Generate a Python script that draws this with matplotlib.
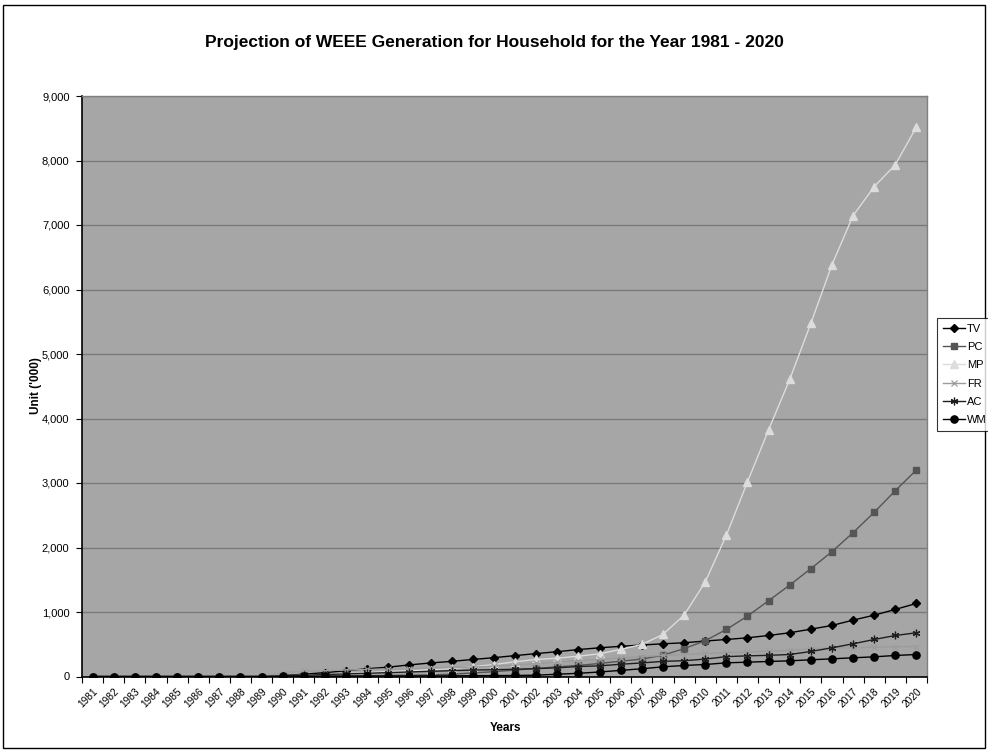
import matplotlib
matplotlib.use("Agg")
import matplotlib.pyplot as plt
from matplotlib.patches import Rectangle

plt.rcParams['font.family'] = ['Liberation Sans', 'DejaVu Sans']

years = [str(y) for y in range(1981, 2021)]

tv = [0, 0, 0, 0, 0, 0, 0, 0, 0,
      15, 35, 60, 90, 120, 145, 180, 210, 235, 264, 292,
      324, 355, 385, 418, 445, 468, 488, 507, 523, 550,
      574, 600, 636, 678, 734, 791, 874, 951, 1040, 1133]
pc = [0, 0, 0, 0, 0, 0, 0, 0, 0,
      2, 4, 6, 9, 12, 16, 20, 25, 35, 55, 75,
      100, 125, 150, 172, 202, 238, 270, 330, 432, 554,
      729, 936, 1175, 1417, 1672, 1935, 2230, 2545, 2882, 3202]
mp = [0, 0, 0, 0, 0, 0, 0, 0, 0,
      10, 20, 30, 45, 60, 75, 90, 105, 125, 150, 186,
      228, 264, 284, 315, 352, 420, 497, 652, 951, 1464,
      2188, 3016, 3823, 4605, 5474, 6383, 7144, 7594, 7935, 8520]
fr = [0, 0, 0, 0, 0, 0, 0, 0, 0,
      60, 80, 90, 100, 110, 115, 120, 130, 140, 145, 160,
      176, 202, 222, 248, 264, 290, 305, 330, 340, 357,
      367, 378, 393, 404, 430, 443, 445, 455, 461, 465]
ac = [0, 0, 0, 0, 0, 0, 0, 0, 0,
      10, 20, 30, 40, 50, 60, 70, 80, 90, 100, 105,
      112, 122, 135, 155, 165, 190, 210, 235, 245, 270,
      308, 320, 328, 341, 388, 445, 507, 574, 636, 678]
wm = [0, 0, 0, 0, 0, 0, 0, 0, 0,
      2, 3, 4, 5, 6, 7, 8, 9, 10, 12, 14,
      16, 20, 35, 50, 70, 95, 120, 150, 171, 186,
      212, 222, 233, 243, 259, 274, 290, 305, 326, 341]

series = [
    ("TV", tv, dict(color="#000000", marker="D", markersize=3.6)),
    ("PC", pc, dict(color="#555555", marker="s", markersize=4.6)),
    ("MP", mp, dict(color="#dcdcdc", marker="^", markersize=5.2)),
    ("FR", fr, dict(color="#9c9c9c", marker="x", markersize=4.2, markeredgewidth=0.9)),
    ("AC", ac, dict(color="#1e1e1e", marker=(6, 2, 0), markersize=5.5, markeredgewidth=0.9)),
    ("WM", wm, dict(color="#000000", marker="o", markersize=5.2)),
]

W, H = 988, 753
fig = plt.figure(figsize=(W / 100, H / 100), dpi=100)
fig.patch.set_facecolor("white")

# outer chart border
fig.patches.append(Rectangle((3 / W, 5 / H), (985 - 3) / W, (748 - 5) / H,
                             transform=fig.transFigure, fill=False,
                             edgecolor="black", linewidth=1.0))

left, right, top, bottom = 82, 927, 96, 676.5
ax = fig.add_axes([left / W, 1 - bottom / H, (right - left) / W, (bottom - top) / H])
ax.set_facecolor("#a6a6a6")

x = list(range(len(years)))
for name, vals, style in series:
    ax.plot(x, vals, label=name, linewidth=1.0, **style)

ax.set_xlim(-0.5, len(years) - 0.5)
ax.set_ylim(0, 9000)
ax.set_yticks(range(0, 9001, 1000))
ax.set_yticklabels([f"{v:,}" for v in range(0, 9001, 1000)], fontsize=8)
ax.yaxis.grid(True, color="#7a7a7a", linewidth=1.0)
ax.set_axisbelow(True)

ax.set_xticks(x)
ax.set_xticklabels(years, rotation=45, ha="right", va="top",
                   rotation_mode="anchor", fontsize=7.3)
ax.set_xticks([i - 0.5 for i in range(len(years) + 1)], minor=True)
ax.tick_params(axis="x", which="major", length=0, pad=7)
ax.tick_params(axis="x", which="minor", length=4, width=0.8, color="black")
ax.tick_params(axis="y", length=4, width=0.8, pad=5)

for s in ("left", "bottom"):
    ax.spines[s].set_color("black")
    ax.spines[s].set_linewidth(1.2)
for s in ("top", "right"):
    ax.spines[s].set_color("#808080")
    ax.spines[s].set_linewidth(1.0)

fig.text(0.5, 1 - 43 / H, "Projection of WEEE Generation for Household for the Year 1981 - 2020",
         ha="center", va="center", fontsize=12.5, fontweight="bold")
fig.text(36 / W, 1 - 386 / H, "Unit ('000)", rotation=90, ha="center", va="center",
         fontsize=8.5, fontweight="bold")
fig.text(505 / W, 1 - 728 / H, "Years", ha="center", va="center",
         fontsize=8.5, fontweight="bold")

leg = fig.legend(loc="upper left", bbox_to_anchor=(937 / W, 1 - 318 / H),
                 fontsize=8, frameon=True, fancybox=False, borderpad=0.5,
                 handlelength=2.0, handletextpad=0.2, labelspacing=0.75,
                 borderaxespad=0)
leg.get_frame().set_edgecolor("black")
leg.get_frame().set_linewidth(0.8)

fig.savefig("out.png", dpi=100)
